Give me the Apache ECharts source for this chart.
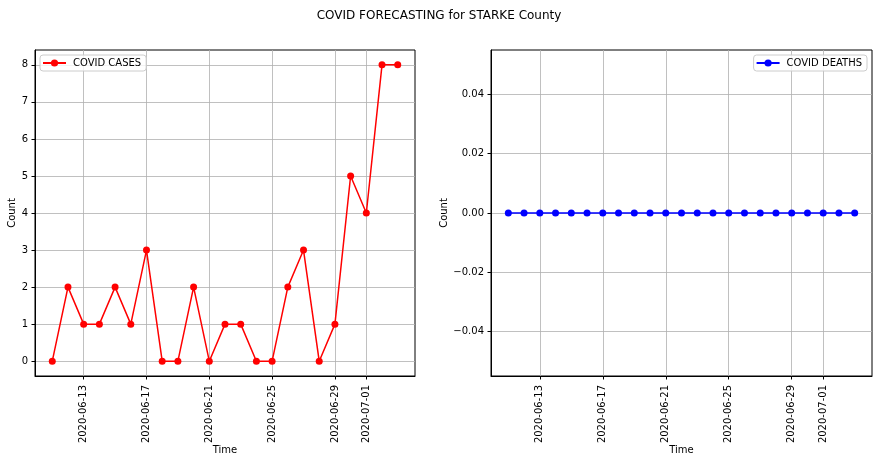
<!DOCTYPE html>
<html>
<head>
<meta charset="utf-8">
<script src="https://cdn.jsdelivr.net/npm/echarts@6/dist/echarts.min.js"></script>
<style>
html, body { margin: 0; padding: 0; background: #fff; }
#main { width: 878px; height: 462px; }
</style>
</head>
<body>
<div id="main"></div>
<script>
var dates = ['2020-06-11','2020-06-12','2020-06-13','2020-06-14','2020-06-15','2020-06-16','2020-06-17',
	'2020-06-18','2020-06-19','2020-06-20','2020-06-21','2020-06-22','2020-06-23','2020-06-24',
	'2020-06-25','2020-06-26','2020-06-27','2020-06-28','2020-06-29','2020-06-30','2020-07-01',
	'2020-07-02','2020-07-03'];
var cases = [0, 2, 1, 1, 2, 1, 3, 0, 0, 2, 0, 1, 1, 0, 0, 2, 3, 0, 1, 5, 4, 8, 8];
var deaths = [0, 0, 0, 0, 0, 0, 0, 0, 0, 0, 0, 0, 0, 0, 0, 0, 0, 0, 0, 0, 0, 0, 0];
var dateTicks = ['2020-06-13','2020-06-17','2020-06-21','2020-06-25','2020-06-29','2020-07-01'];
var caseTicks = [0, 1, 2, 3, 4, 5, 6, 7, 8];
var deathTicks = [-0.04, -0.02, 0, 0.02, 0.04];

var FONT = 'DejaVu Sans';
var tickTimes = dateTicks.map(function(d){ return +echarts.time.parse(d); });

function pairs(vals){
	var out = [];
	for (var i = 0; i < dates.length; i++) {
		out.push([+echarts.time.parse(dates[i]), vals[i]]);
	}
	return out;
}

// x轴：用数值轴承载时间戳，刻度按日期自定义
function xAxisCfg(idx){
	return {
		type: 'value',
		gridIndex: idx,
		scale: true,
		min: function(v){ return v.min - 0.05 * (v.max - v.min); },
		max: function(v){ return v.max + 0.05 * (v.max - v.min); },
		name: 'Time',
		nameLocation: 'middle',
		nameGap: 69,
		nameMoveOverlap: false,
		nameTextStyle: { fontFamily: FONT, fontSize: 10, color: '#000' },
		axisLine: { show: true, onZero: false, lineStyle: { color: '#000', width: 1 } },
		axisTick: { show: true, length: 3.5, lineStyle: { color: '#000' }, customValues: tickTimes },
		axisLabel: {
			customValues: tickTimes,
			rotate: 90, margin: 9,
			fontFamily: FONT, fontSize: 10, color: '#000',
			formatter: function(v){ return echarts.time.format(v, '{yyyy}-{MM}-{dd}', false); }
		},
		splitLine: { show: true, lineStyle: { color: '#b0b0b0', width: 0.8 } }
	};
}

function yAxisCfg(idx, mn, mx, ticks, fmt, gap){
	return {
		type: 'value',
		gridIndex: idx,
		min: mn, max: mx,
		name: 'Count',
		nameLocation: 'middle',
		nameGap: gap,
		nameMoveOverlap: false,
		nameTextStyle: { fontFamily: FONT, fontSize: 10, color: '#000' },
		axisLine: { show: true, onZero: false, lineStyle: { color: '#000', width: 1 } },
		axisTick: { show: true, length: 3.5, lineStyle: { color: '#000' }, customValues: ticks },
		axisLabel: { customValues: ticks, margin: 7, fontFamily: FONT, fontSize: 10, color: '#000', formatter: fmt },
		splitLine: { show: true, lineStyle: { color: '#b0b0b0', width: 0.8 } }
	};
}

function legendCfg(name, pos){
	var cfg = {
		data: [name],
		top: 55,
		itemWidth: 23, itemHeight: 9, padding: [3, 5, 3, 2],
		borderColor: '#cccccc', borderWidth: 1, borderRadius: 3,
		backgroundColor: 'rgba(255,255,255,0.8)',
		textStyle: { fontFamily: FONT, fontSize: 10, color: '#000', padding: [0, 0, 0, 2] }
	};
	return echarts.util.extend(cfg, pos);
}

var gridBase = { top: 50, bottom: 86, show: true, borderColor: '#000', borderWidth: 1,
	backgroundColor: 'transparent', containLabel: false, outerBoundsMode: 'none' };

var myChart = echarts.init(document.getElementById('main'));
myChart.setOption({
	animation: false,
	backgroundColor: '#fff',
	title: {
		text: 'COVID FORECASTING for STARKE County',
		left: 'center', top: 5,
		textStyle: { fontFamily: FONT, fontSize: 12, fontWeight: 'normal', color: '#000' }
	},
	legend: [legendCfg('COVID CASES', { left: 40 }), legendCfg('COVID DEATHS', { right: 11 })],
	grid: [
		echarts.util.extend({ left: 35, right: 463 }, gridBase),
		echarts.util.extend({ left: 491, right: 6 }, gridBase)
	],
	xAxis: [xAxisCfg(0), xAxisCfg(1)],
	yAxis: [
		yAxisCfg(0, -0.4, 8.4, caseTicks, function(v){ return String(v); }, 18),
		yAxisCfg(1, -0.055, 0.055, deathTicks, function(v){
			var s = Math.abs(v).toFixed(2);
			return v < -1e-9 ? '\u2212' + s : s;
		}, 42)
	],
	series: [{
		name: 'COVID CASES',
		type: 'line',
		xAxisIndex: 0, yAxisIndex: 0,
		data: pairs(cases),
		symbol: 'circle', symbolSize: 7,
		lineStyle: { color: '#ff0000', width: 1.5 },
		itemStyle: { color: '#ff0000' }
	}, {
		name: 'COVID DEATHS',
		type: 'line',
		xAxisIndex: 1, yAxisIndex: 1,
		data: pairs(deaths),
		symbol: 'circle', symbolSize: 7,
		lineStyle: { color: '#0000ff', width: 1.5 },
		itemStyle: { color: '#0000ff' }
	}]
});
</script>
</body>
</html>
